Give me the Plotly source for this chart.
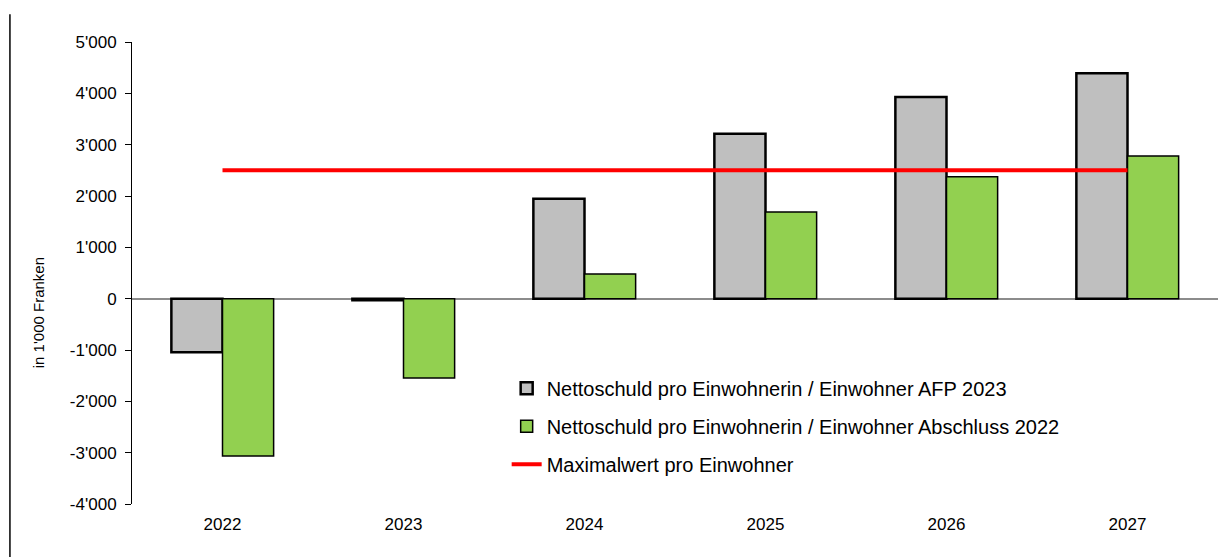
import plotly.graph_objects as go

years = ["2022", "2023", "2024", "2025", "2026", "2027"]
afp_2023 = [-1045, -30, 1945, 3215, 3930, 4390]
abschluss_2022 = [-3065, -1545, 480, 1690, 2375, 2780]
maximalwert = [2500, 2500, 2500, 2500, 2500, 2500]

tick_vals = [-4000, -3000, -2000, -1000, 0, 1000, 2000, 3000, 4000, 5000]
tick_text = ["-4'000", "-3'000", "-2'000", "-1'000", "0", "1'000", "2'000", "3'000", "4'000", "5'000"]

names = [
    "Nettoschuld pro Einwohnerin / Einwohner AFP 2023",
    "Nettoschuld pro Einwohnerin / Einwohner Abschluss 2022",
    "Maximalwert pro Einwohner",
]
y_title = "in 1'000 Franken"

FONT = "Liberation Sans, Arial, sans-serif"

fig = go.Figure()
fig.add_trace(go.Bar(
    x=years, y=afp_2023, name=names[0], legendgroup="a",
    marker=dict(color="#BFBFBF", line=dict(color="#000000", width=2.5)),
))
fig.add_trace(go.Bar(
    x=years, y=abschluss_2022, name=names[1], legendgroup="b",
    marker=dict(color="#92D050", line=dict(color="#000000", width=1.5)),
))
fig.add_trace(go.Scatter(
    x=years, y=maximalwert, name=names[2], legendgroup="c", mode="lines",
    line=dict(color="#FF0000", width=4),
))

fig.update_layout(
    width=1229, height=557,
    margin=dict(l=132, r=11, t=42, b=53),
    paper_bgcolor="white", plot_bgcolor="white",
    font=dict(family=FONT, color="#000000", size=17),
    barmode="group", bargap=0.435, bargroupgap=0,
    showlegend=True,
    legend=dict(
        x=0.345, y=0.293, xanchor="left", yanchor="top",
        bgcolor="rgba(0,0,0,0)", font=dict(size=20, family=FONT),
        tracegroupgap=9, itemwidth=30,
    ),
    xaxis=dict(
        type="category", showgrid=False, showline=False, ticks="",
        tickfont=dict(size=17), zeroline=False, ticklabelstandoff=8,
    ),
    yaxis=dict(
        range=[-4000, 5000], tickvals=tick_vals, ticktext=tick_text,
        showgrid=False, showline=True, linecolor="#000000", linewidth=1,
        ticks="outside", ticklen=6, tickcolor="#000000",
        zeroline=True, zerolinecolor="#8C8C8C", zerolinewidth=1.5,
        tickfont=dict(size=17), ticklabelstandoff=5,
        automargin=False,
    ),
    annotations=[dict(
        text=y_title, textangle=-90, showarrow=False,
        xref="paper", yref="paper", x=-0.0866, y=0.415,
        xanchor="center", yanchor="middle",
        font=dict(size=15, family=FONT),
    )],
    shapes=[dict(
        type="line", xref="paper", yref="paper",
        x0=-0.1124, x1=-0.1124, y0=-0.115, y1=1.06,
        line=dict(color="#000000", width=1.5),
    )],
)

fig.write_html("out.html")
